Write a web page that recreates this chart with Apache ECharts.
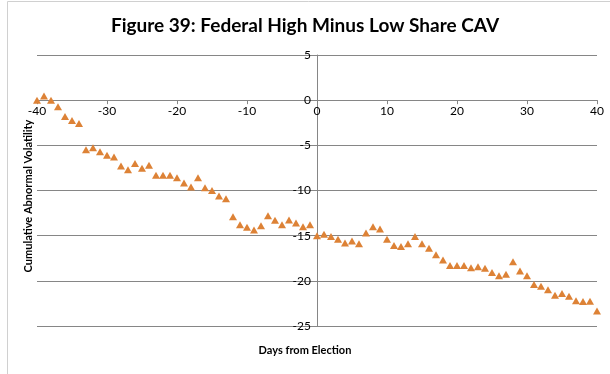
<!DOCTYPE html>
<html><head><meta charset="utf-8">
<script src="https://cdn.jsdelivr.net/npm/echarts@6/dist/echarts.min.js"></script>
<style>html,body{margin:0;padding:0;background:#fff}#c{width:610px;height:374px}</style>
</head><body><div id="c"></div>
<script>
const days = [-40,-39,-38,-37,-36,-35,-34,-33,-32,-31,-30,-29,-28,-27,-26,-25,-24,-23,-22,-21,-20,-19,-18,-17,-16,-15,-14,-13,-12,-11,-10,-9,-8,-7,-6,-5,-4,-3,-2,-1,0,1,2,3,4,5,6,7,8,9,10,11,12,13,14,15,16,17,18,19,20,21,22,23,24,25,26,27,28,29,30,31,32,33,34,35,36,37,38,39,40];
const cav = [0.0,0.45,0.0,-0.73,-1.8,-2.25,-2.57,-5.5,-5.27,-5.7,-6.1,-6.3,-7.3,-7.7,-7.0,-7.55,-7.2,-8.3,-8.3,-8.3,-8.6,-9.17,-9.6,-8.6,-9.7,-10.0,-10.6,-10.9,-12.9,-13.8,-14.07,-14.36,-13.9,-12.8,-13.3,-13.8,-13.26,-13.6,-14.0,-13.8,-15.0,-14.85,-15.1,-15.4,-15.8,-15.6,-15.9,-14.7,-14.0,-14.25,-15.4,-16.1,-16.2,-15.9,-15.1,-15.9,-16.4,-17.1,-17.7,-18.3,-18.3,-18.3,-18.55,-18.45,-18.6,-19.07,-19.45,-19.26,-17.9,-18.9,-19.45,-20.4,-20.6,-21.0,-21.6,-21.4,-21.7,-22.2,-22.3,-22.25,-23.35];
const titleText = "Figure 39: Federal High Minus Low Share CAV";
const xName = "Days from Election";
const yName = "Cumulative Abnormal Volatility";
const xMin = -40, xMax = 40, yMin = -25, yMax = 5;

const FONT = "Lato";
const G = {left:37, right:13, top:55, bottom:48, w:610, h:374};
const plotW = G.w - G.left - G.right, plotH = G.h - G.top - G.bottom;
// offsets that place each axis where the other axis is zero
const xAxisOffset = -plotH * (0 - yMin) / (yMax - yMin);
const yAxisOffset = -plotW * (0 - xMin) / (xMax - xMin);

const chart = echarts.init(document.getElementById('c'), null, {renderer:'canvas'});
chart.setOption({
  animation:false,
  backgroundColor:'#fff',
  textStyle:{fontFamily:FONT},
  title:{text:titleText,left:'center',top:11,
    textStyle:{fontFamily:FONT,fontWeight:'bold',fontSize:19,color:'#000'}},
  graphic:[
    {type:'line',shape:{x1:7.5,y1:1.5,x2:610,y2:1.5},style:{stroke:'#d0d0d0',lineWidth:1}},
    {type:'line',shape:{x1:7.5,y1:1.5,x2:7.5,y2:374},style:{stroke:'#d0d0d0',lineWidth:1}},
    {type:'text',left:'center',top:345,style:{text:xName,font:'bold 11px '+FONT,fill:'#000'}},
    {type:'text',x:28,y:196,rotation:Math.PI/2,style:{text:yName,font:'bold 11px '+FONT,fill:'#000',align:'center',verticalAlign:'middle'}}
  ],
  grid:{left:G.left,right:G.right,top:G.top,bottom:G.bottom},
  xAxis:{type:'value',min:xMin,max:xMax,interval:10,position:'bottom',offset:xAxisOffset,
    axisLine:{onZero:false,lineStyle:{color:'#868686',width:1}},
    axisTick:{show:true,length:4,lineStyle:{color:'#868686'}},
    splitLine:{show:false},
    axisLabel:{color:'#000',fontSize:12,fontFamily:FONT,margin:5}},
  yAxis:{type:'value',min:yMin,max:yMax,interval:5,position:'left',offset:yAxisOffset,
    axisLine:{show:true,onZero:false,lineStyle:{color:'#868686',width:1}},
    axisTick:{show:true,length:4,lineStyle:{color:'#868686'}},
    splitLine:{show:true,lineStyle:{color:'#868686',width:1}},
    axisLabel:{color:'#000',fontSize:12,fontFamily:FONT,margin:6}},
  series:[{type:'scatter',data:days.map((d,i)=>[d,cav[i]]),
    symbol:'triangle',symbolSize:[8,7],
    itemStyle:{color:'#DD8236',opacity:1}}]
});
</script></body></html>
